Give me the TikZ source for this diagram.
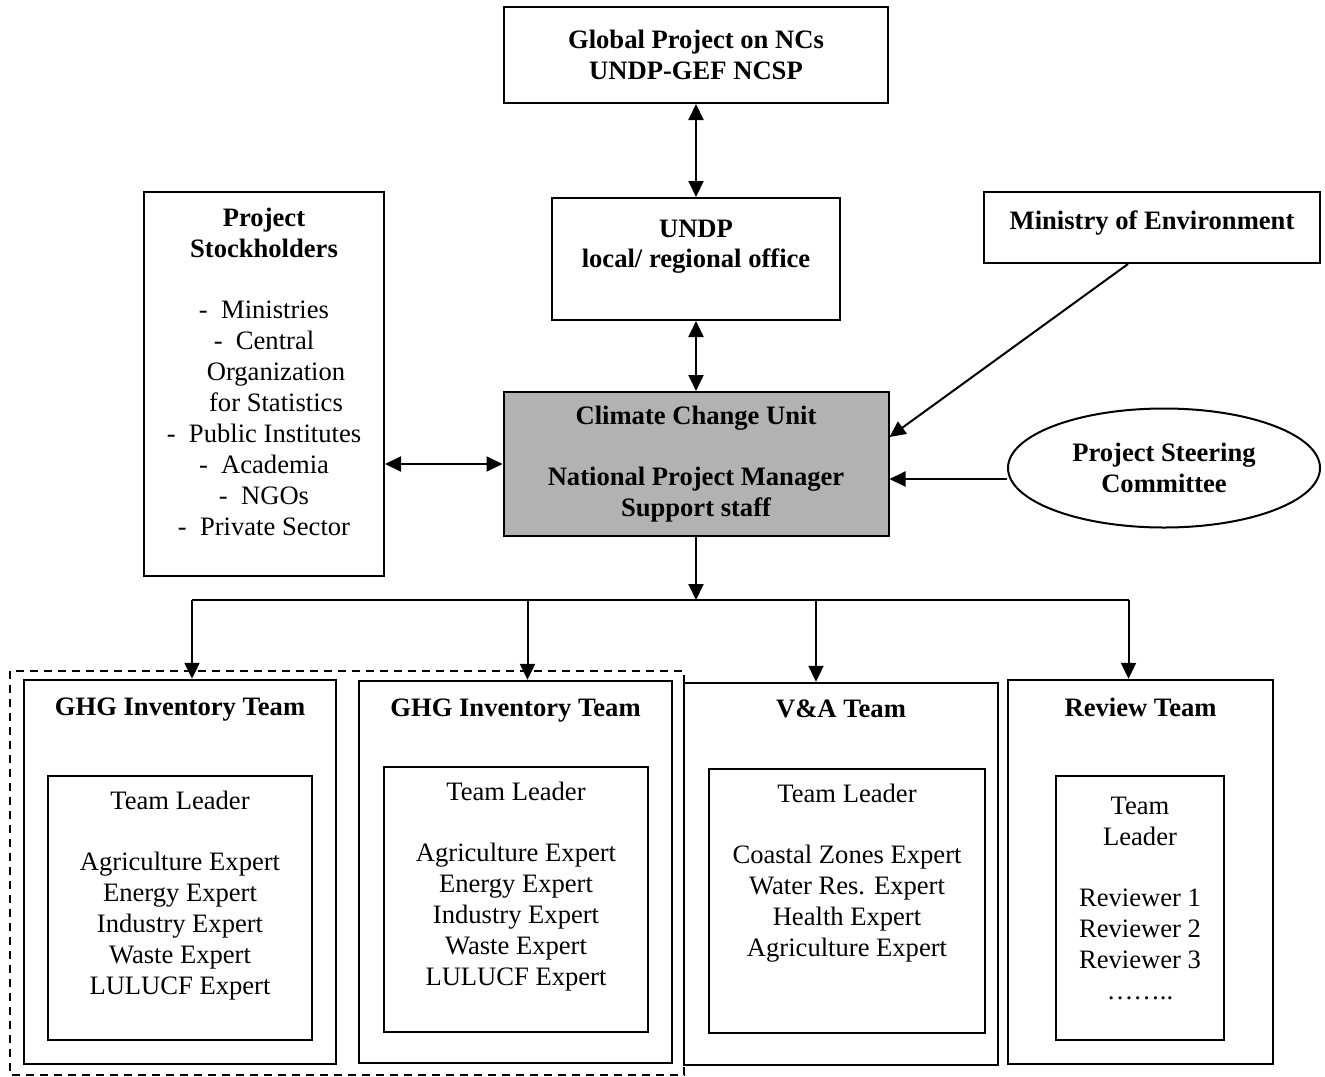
\documentclass[tikz,border=0pt]{standalone}
\usepackage{fontspec}
\setmainfont{Liberation Serif}
\usetikzlibrary{arrows.meta,positioning,shapes.geometric}

\begin{document}
\begin{tikzpicture}[
       x=0.5pt, y=-0.5pt,
       every node/.style={font=\fontsize{13.3}{15.5}\selectfont},
       box/.style={
         rectangle,
         draw=black,
         line width=1pt,
         align=center,
         inner sep=2pt},
       head/.style={
         align=center,
         font=\fontsize{13.3}{15.3}\selectfont\bfseries},
       unit/.style={box, head, fill=black!30},
       team/.style={box, line width=1.2pt},
       arr/.style={line width=1pt, -{Triangle[length=8pt,width=7.5pt]}},
       biarr/.style={line width=1pt, {Triangle[length=8pt,width=7.5pt]}-{Triangle[length=8pt,width=7.5pt]}}
      ]
      \useasboundingbox (0,0) rectangle (1325,1076);

      % top of the chain
      \node[box, head, minimum width=192pt, minimum height=48pt] (glob) at (696,55) {Global Project on NCs\\UNDP-GEF NCSP};
      \node[box, head, minimum width=144pt, minimum height=61pt] (undp) at (696,259) {UNDP\\local/ regional office\\ \mbox{}};
      \node[unit, minimum width=192.5pt, minimum height=72pt] (ccu) at (696,464) {Climate Change Unit\\[15pt]National Project Manager\\Support staff};

      % side boxes
      \node[box, minimum width=120pt, minimum height=192pt] (stock) at (264,384) {\textbf{Project}\\\textbf{Stockholders}\\[15pt]
        - \ Ministries\\- \ Central\\\hspace*{12pt}Organization\\\hspace*{12pt}for Statistics\\- \ Public Institutes\\- \ Academia\\- \ NGOs\\- \ Private Sector\\[-3.5pt]\mbox{}};
      \node[box, head, minimum width=168pt, minimum height=35.5pt] (minenv) at (1152,227.5) {Ministry of Environment\\[-7.8pt]\mbox{}};
      \node[box, head, ellipse, inner sep=0pt, minimum width=156pt, minimum height=59.5pt] (psc) at (1164,468) {Project Steering\\Committee};

      % teams
      \node[team, minimum width=156pt, minimum height=192pt] (ghgA) at (180,872) {};
      \node[head, below=6pt of ghgA.north] (ghgAt) {GHG Inventory Team};
      \node[box, minimum width=132pt, minimum height=132pt] (ghgAin) at (180,908) {Team Leader\\[15pt]Agriculture Expert\\Energy Expert\\Industry Expert\\Waste Expert\\LULUCF Expert\\ \mbox{}};

      \node[team, minimum width=156.5pt, minimum height=191pt] (ghgB) at (515.5,872) {};
      \node[head, below=6pt of ghgB.north] (ghgBt) {GHG Inventory Team};
      \node[box, minimum width=132pt, minimum height=132.5pt] (ghgBin) at (516,899.5) {Team Leader\\[15pt]Agriculture Expert\\Energy Expert\\Industry Expert\\Waste Expert\\LULUCF Expert\\ \mbox{}};

      \node[team, minimum width=157pt, minimum height=191pt] (va) at (841,874) {};
      \node[head, below=5.5pt of va.north] (vat) {V\&A Team};
      \node[box, minimum width=138pt, minimum height=132pt] (vain) at (847,901) {Team Leader\\[15pt]Coastal Zones Expert\\Water Res. Expert\\Health Expert\\Agriculture Expert\\ \mbox{}\\ \mbox{}};

      \node[team, minimum width=132.5pt, minimum height=192pt] (rev) at (1140.5,872) {};
      \node[head, below=6pt of rev.north] (revt) {Review Team};
      \node[box, minimum width=84pt, minimum height=132pt] (revin) at (1140,908) {Team\\Leader\\[15pt]Reviewer 1\\Reviewer 2\\Reviewer 3\\……..\\[-5.5pt]\mbox{}};

      % frame round the two inventory teams
      \draw[line width=0.8pt, dash pattern=on 4pt off 3pt] (10,671) rectangle (684,1075);

      % links
      \draw[biarr] (glob) -- (undp);
      \draw[biarr] (undp) -- (ccu);
      \draw[biarr] (stock.east |- ccu.west) -- (ccu.west);
      \draw[arr] ([xshift=-12pt]minenv.south) -- ([yshift=13.5pt]ccu.east);
      \draw[arr] ([yshift=-5.5pt]psc.west) -- ([yshift=-5.5pt]psc.west -| ccu.east);

      \coordinate (bus) at (696,600);
      \coordinate (dA) at ([xshift=6pt]ghgA.north);
      \coordinate (dB) at ([xshift=6pt]ghgB.north);
      \coordinate (dC) at ([xshift=-12.5pt]va.north);
      \coordinate (dD) at ([xshift=-6pt]rev.north);
      \draw[arr] (ccu) -- (bus);
      \draw[line width=1pt] (dA |- bus) -- (dD |- bus);
      \draw[arr] (dA |- bus) -- (dA);
      \draw[arr] (dB |- bus) -- (dB);
      \draw[arr] (dC |- bus) -- (dC);
      \draw[arr] (dD |- bus) -- (dD);

\end{tikzpicture}
\end{document}
